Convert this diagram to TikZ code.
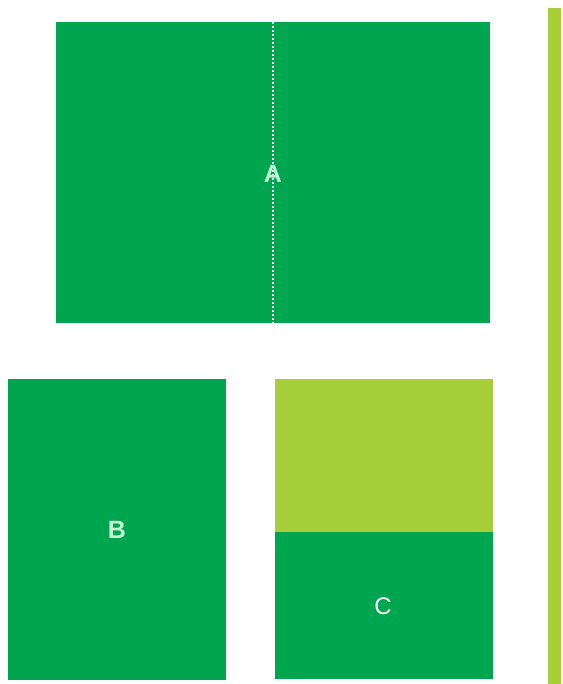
\documentclass[tikz,border=0pt]{standalone}
\usepackage{fontspec}
\setmainfont{Liberation Sans}
\definecolor{dgreen}{HTML}{00A54F}
\definecolor{lgreen}{HTML}{A6CE39}
\definecolor{mint}{HTML}{C4F2D2}
\begin{document}
\begin{tikzpicture}[x=1pt,y=-1pt,
  blk/.style={fill=dgreen,draw=none},
  lblk/.style={fill=lgreen,draw=none},
  mintlbl/.style={text=mint,font=\fontsize{25}{25}\selectfont\bfseries},
  whitelbl/.style={text=white,font=\fontsize{24}{24}\selectfont}]
\useasboundingbox (0,0) rectangle (562,684);
\fill[white] (0,0) rectangle (562,684);
% A
\path[blk] (56,22) rectangle (490,323);
\coordinate (dtop) at (273,22);
\coordinate (dbot) at (273,323);
\draw[white,line width=1.6pt,dash pattern=on 2pt off 2pt] (dtop) -- (dbot);
\node[mintlbl] (a) at (273,174) {A};
% B
\path[blk] (8,379) rectangle (226,680);
\node[mintlbl] (b) at (117,530) {B};
% C
\path[lblk] (275,379) rectangle (493,532);
\path[blk] (275,532) rectangle (493,679);
\node[whitelbl] (c) at (383,606) {C};
% right bar
\path[lblk] (548,8) rectangle (561,684);
\end{tikzpicture}
\end{document}
